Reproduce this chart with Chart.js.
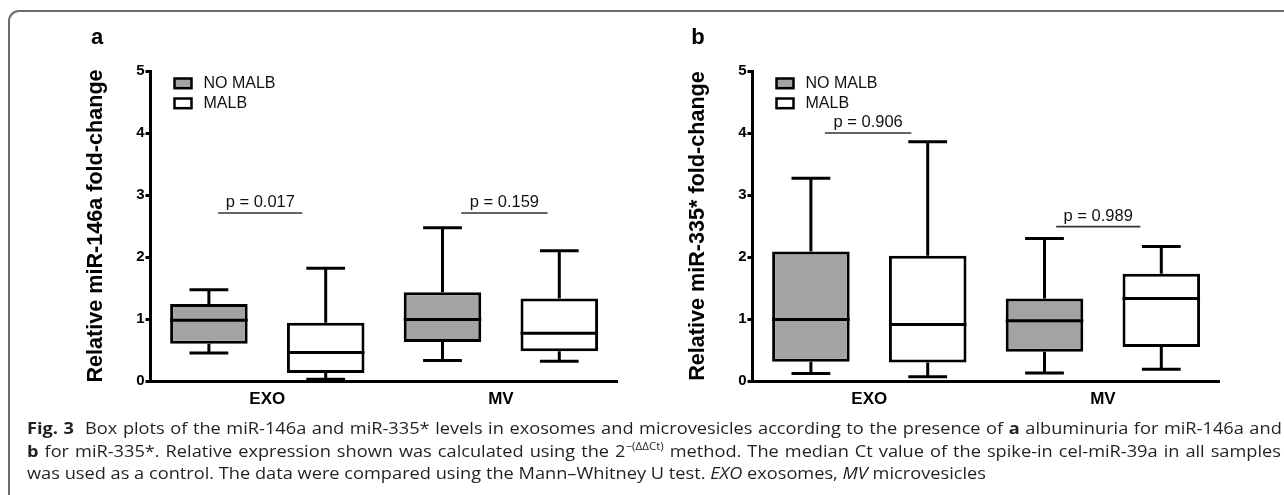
<!DOCTYPE html>
<html>
<head>
<meta charset="utf-8">
<script src="https://cdn.jsdelivr.net/npm/chart.js@4.4.1/dist/chart.umd.min.js"></script>
<style>
  html, body { margin: 0; padding: 0; background: #fff; }
  body { width: 1284px; height: 495px; position: relative; overflow: hidden; font-family: "Liberation Sans", Arial, sans-serif; }
  .frame { position: absolute; left: 8px; top: 10px; width: 1400px; height: 600px; border-top: 2px solid #6b6b6b; border-left: 2px solid #6b6b6b; border-top-left-radius: 11px; }
  .panel { position: absolute; top: 0; }
  .letter { position: absolute; top: 26px; font: bold 22px "Liberation Sans", Arial, sans-serif; line-height: 22px; transform: translateX(-50%); }
  .caption { position: absolute; left: 27px; top: 417px; font-family: "Open Sans", sans-serif; font-size: 16.5px; line-height: 22.5px; color: #231f20; }
  .cap-line { display: block; white-space: nowrap; height: 22.5px; }
  .cap-line .inner { display: inline-block; transform-origin: 0 0; }
  .caption sup { font-size: 10.5px; vertical-align: 7px; line-height: 0; }
</style>
</head>
<body>
<div class="frame"></div>

<canvas id="chartA" class="panel" width="640" height="420" style="left:0px"></canvas>
<canvas id="chartB" class="panel" width="640" height="420" style="left:602px"></canvas>
<div class="letter" style="left:97px">a</div>
<div class="letter" style="left:698px">b</div>

<div class="caption">
  <div class="cap-line"><span class="inner"><b>Fig. 3</b>&nbsp; Box plots of the miR-146a and miR-335* levels in exosomes and microvesicles according to the presence of <b>a</b> albuminuria for miR-146a and</span></div>
  <div class="cap-line"><span class="inner"><b>b</b> for miR-335*. Relative expression shown was calculated using the 2<sup>−(ΔΔCt)</sup> method. The median Ct value of the spike-in cel-miR-39a in all samples</span></div>
  <div class="cap-line"><span class="inner">was used as a control. The data were compared using the Mann–Whitney U test. <i>EXO</i> exosomes, <i>MV</i> microvesicles</span></div>
</div>

<script>
const categories = ['EXO', 'MV'];
const groupNames = ['NO MALB', 'MALB'];
const yTicks = [0, 1, 2, 3, 4, 5];

// box stats per category: [min, Q1, median, Q3, max]
const mir146aNoMalb = [[0.45, 0.60, 0.98, 1.24, 1.47], [0.33, 0.63, 0.99, 1.43, 2.47]];
const mir146aMalb = [[0.03, 0.13, 0.46, 0.94, 1.82], [0.32, 0.48, 0.77, 1.33, 2.10]];
const mir335NoMalb = [[0.12, 0.31, 0.99, 2.09, 3.27], [0.13, 0.47, 0.97, 1.33, 2.30]];
const mir335Malb = [[0.07, 0.30, 0.91, 2.02, 3.86], [0.19, 0.55, 1.33, 1.73, 2.17]];

const mir146aPValues = ['p = 0.017', 'p = 0.159'];
const mir335PValues = ['p = 0.906', 'p = 0.989'];
const mir146aBracketY = [2.71, 2.71];
const mir335BracketY = [4.0, 2.49];

const FONT = '"Liberation Sans", Arial, sans-serif';

// whiskers + median lines on top of the floating bars
const boxWhiskers = {
  id: 'boxWhiskers',
  afterDatasetsDraw(chart) {
    const ctx = chart.ctx;
    const y = chart.scales.y;
    ctx.save();
    ctx.strokeStyle = '#000';
    ctx.lineWidth = 3;
    chart.data.datasets.forEach((ds, i) => {
      chart.getDatasetMeta(i).data.forEach((bar, j) => {
        const [lo, q1, med, q3, hi] = ds.stats[j];
        const { x, width } = bar.getProps(['x', 'width'], true);
        const half = width / 2, cap = width / 4;
        const yMed = y.getPixelForValue(med), yHi = y.getPixelForValue(hi), yLo = y.getPixelForValue(lo);
        ctx.beginPath();
        ctx.moveTo(x - half, yMed); ctx.lineTo(x + half, yMed);
        ctx.moveTo(x, y.getPixelForValue(q3)); ctx.lineTo(x, yHi);
        ctx.moveTo(x - cap, yHi); ctx.lineTo(x + cap, yHi);
        ctx.moveTo(x, y.getPixelForValue(q1)); ctx.lineTo(x, yLo);
        ctx.moveTo(x - cap, yLo); ctx.lineTo(x + cap, yLo);
        ctx.stroke();
      });
    });
    ctx.restore();
  }
};

// p-value brackets and the inside legend
const panelExtras = {
  id: 'panelExtras',
  afterDraw(chart, args, opts) {
    const { ctx, chartArea } = chart;
    const x = chart.scales.x, y = chart.scales.y;
    ctx.save();
    opts.pValues.forEach((txt, i) => {
      const x0 = x.getPixelForValue(i + opts.spans[i][0]);
      const x1 = x.getPixelForValue(i + opts.spans[i][1]);
      const yy = y.getPixelForValue(opts.bracketY[i]);
      ctx.strokeStyle = '#333';
      ctx.lineWidth = 1.6;
      ctx.beginPath();
      ctx.moveTo(x0, yy); ctx.lineTo(x1, yy);
      ctx.stroke();
      ctx.fillStyle = '#111';
      ctx.font = '16.5px ' + FONT;
      ctx.textAlign = 'center';
      ctx.textBaseline = 'alphabetic';
      ctx.fillText(txt, (x0 + x1) / 2, yy - 6);
    });
    chart.data.datasets.forEach((ds, i) => {
      const bx = chartArea.left + 24, by = chartArea.top + 7.5 + i * 20;
      ctx.fillStyle = ds.backgroundColor;
      ctx.fillRect(bx, by, 17, 9.7);
      ctx.strokeStyle = '#000';
      ctx.lineWidth = 2.5;
      ctx.strokeRect(bx, by, 17, 9.7);
      ctx.fillStyle = '#111';
      ctx.font = '16px ' + FONT;
      ctx.textAlign = 'left';
      ctx.textBaseline = 'middle';
      ctx.fillText(ds.label, bx + 29, by + 5.5);
    });
    ctx.restore();
  }
};

function makePanel(id, yTitle, noMalb, malb, pValues, bracketY, spans) {
  const boxStyle = { borderColor: '#000', borderWidth: 3, borderSkipped: false, categoryPercentage: 1, barPercentage: 0.664 };
  return new Chart(document.getElementById(id), {
    type: 'bar',
    data: {
      labels: categories,
      datasets: [
        Object.assign({ label: groupNames[0], data: noMalb.map(s => [s[1], s[3]]), stats: noMalb, backgroundColor: '#a3a3a3' }, boxStyle),
        Object.assign({ label: groupNames[1], data: malb.map(s => [s[1], s[3]]), stats: malb, backgroundColor: '#ffffff' }, boxStyle)
      ]
    },
    plugins: [boxWhiskers, panelExtras],
    options: {
      responsive: false,
      animation: false,
      devicePixelRatio: 1,
      layout: { padding: { left: 83, top: 71, right: 22.3, bottom: 9 } },
      plugins: {
        legend: { display: false },
        tooltip: { enabled: false },
        panelExtras: { pValues: pValues, bracketY: bracketY, spans: spans }
      },
      scales: {
        x: {
          grid: { display: false, drawTicks: false },
          border: { display: true, color: '#000', width: 3 },
          ticks: { color: '#000', padding: 8, font: { family: FONT, size: 17, weight: 'bold' } },
          afterFit: (scale) => { scale.height = 30; }
        },
        y: {
          min: 0,
          max: 5,
          afterBuildTicks: (scale) => { scale.ticks = yTicks.map(v => ({ value: v })); },
          grid: { display: true, drawOnChartArea: false, drawTicks: true, tickLength: 5, color: '#000', lineWidth: 3 },
          border: { display: true, color: '#000', width: 3 },
          ticks: { color: '#000', padding: 1, font: { family: FONT, size: 15, weight: 'bold' } },
          title: { display: true, text: yTitle, color: '#000', padding: 0, font: { family: FONT, size: 21.6, weight: 'bold', lineHeight: 1.2 } },
          afterFit: (scale) => { scale.width = 67.5; }
        }
      }
    }
  });
}

makePanel('chartA', 'Relative miR-146a fold-change', mir146aNoMalb, mir146aMalb,
  mir146aPValues, mir146aBracketY, [[-0.21, 0.15], [-0.17, 0.20]]);
makePanel('chartB', 'Relative miR-335* fold-change', mir335NoMalb, mir335Malb,
  mir335PValues, mir335BracketY, [[-0.19, 0.18], [-0.20, 0.16]]);

// caption: squeeze to the reference's narrower face, justify the first two lines
function fitCaption() {
  const inners = document.querySelectorAll('.cap-line .inner');
  const s = 959 / inners[2].getBoundingClientRect().width;
  inners.forEach((el, k) => {
    if (k < 2) {
      const gaps = (el.textContent.match(/ /g) || []).length;
      const extra = (1254 / s - el.getBoundingClientRect().width) / gaps;
      el.style.wordSpacing = extra + 'px';
    }
    el.style.transform = 'scaleX(' + s + ')';
  });
}
if (document.fonts && document.fonts.ready) {
  document.fonts.ready.then(fitCaption);
} else {
  fitCaption();
}
</script>
</body>
</html>
